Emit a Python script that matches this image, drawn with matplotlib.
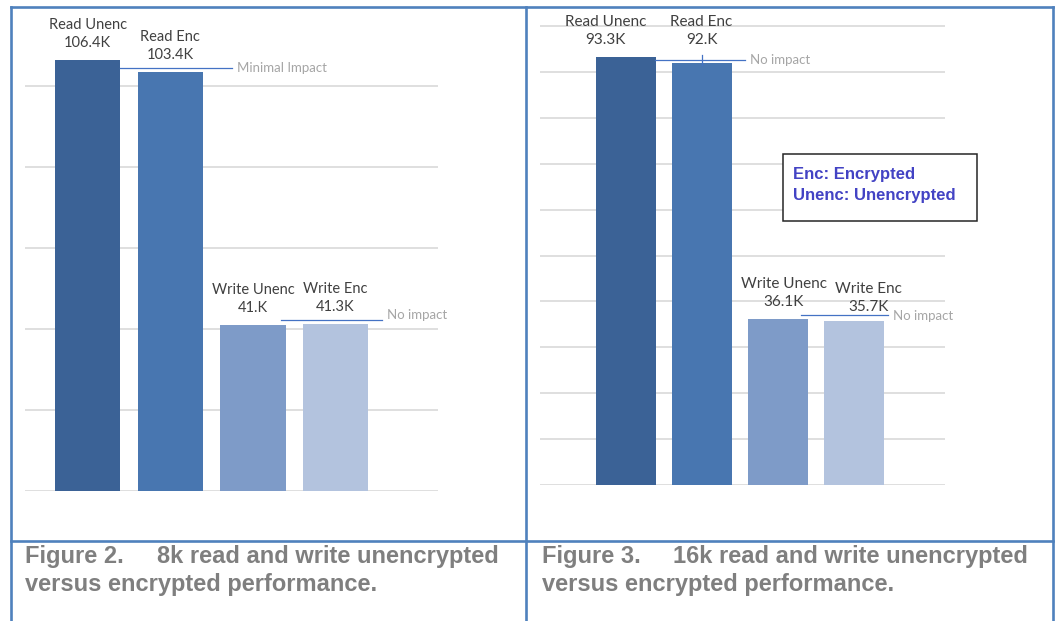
import matplotlib.pyplot as plt
from matplotlib.lines import Line2D
from matplotlib.patches import Rectangle

W, H = 1059, 621

# IOPS (thousands) for the four runs, 8k and 16k block sizes
categories = ['Read Unenc', 'Read Enc', 'Write Unenc', 'Write Enc']
iops_8k = [106.4, 103.4, 41.0, 41.3]
iops_16k = [93.3, 92.0, 36.1, 35.7]
value_labels_8k = ['106.4K', '103.4K', '41.K', '41.3K']
value_labels_16k = ['93.3K', '92.K', '36.1K', '35.7K']

caption_8k = ('Figure 2.', '8k read and write unencrypted', 'versus encrypted performance.')
caption_16k = ('Figure 3.', '16k read and write unencrypted', 'versus encrypted performance.')
key_lines = ['Enc: Encrypted', 'Unenc: Unencrypted']

bar_colors = ['#3b6296', '#4876b0', '#7e9bc8', '#b3c3de']
grid_color = '#d9d9d9'
label_color = '#404040'
note_color = '#a6a6a6'
note_line = '#4472c4'
border = '#4f81bd'


def px_axes(fig, x0, y0, x1, y1):
    return fig.add_axes([x0 / W, 1 - y1 / H, (x1 - x0) / W, (y1 - y0) / H])


def draw_panel(ax, values, vlabels, ylim, step, xlim, width, fsize, offsets):
    ax.bar(range(len(values)), values, width=width, color=bar_colors, zorder=2)
    for i, (cat, v, lab) in enumerate(zip(categories, values, vlabels)):
        dx, dy = offsets[i]
        ax.annotate(f'{cat}\n{lab}', xy=(i, v), xytext=(dx * 0.72, dy * 0.72),
                    textcoords='offset points', ha='center', va='bottom',
                    fontsize=fsize, color=label_color, family='Lato',
                    linespacing=1.35, annotation_clip=False)
    ax.set_xlim(*xlim)
    ax.set_ylim(0, ylim)
    ax.set_yticks(range(0, 101, step))
    ax.set_xticks([])
    ax.tick_params(left=False, labelleft=False)
    ax.grid(axis='y', color=grid_color, lw=1.2, zorder=0)
    ax.set_axisbelow(True)
    for s in ax.spines.values():
        s.set_visible(False)


def note(ax, x0, x1, y, text, ty=None):
    ax.plot([x0, x1], [y, y], color=note_line, lw=0.9, clip_on=False, zorder=3)
    ax.text(x1 + 0.06, y if ty is None else ty, text, ha='left', va='center',
            fontsize=9.5, color=note_color, family='Lato')


fig = plt.figure(figsize=(W / 100, H / 100), dpi=100)

# left panel: 8k
ax1 = px_axes(fig, 25, 15, 438, 491)
draw_panel(ax1, iops_8k, value_labels_8k, 117.5, 20, (-0.76, 4.24), 0.79, 10.5,
           [(0, 10), (0, 10), (0, 10), (0, 10)])
note(ax1, 0.395, 1.745, 104.5, 'Minimal Impact')
note(ax1, 2.34, 3.56, 42.2, 'No impact', ty=43.5)

# right panel: 16k
ax2 = px_axes(fig, 540, 10, 945, 485)
draw_panel(ax2, iops_16k, value_labels_16k, 103.5, 10, (-1.125, 4.2), 0.79, 11,
           [(-20, 10), (0, 16), (6, 10), (15, 7)])
note(ax2, 0.39, 1.57, 92.6, 'No impact')
ax2.plot([1, 1], [91.5, 93.7], color=note_line, lw=0.9, zorder=3)
note(ax2, 2.31, 3.45, 37.0, 'No impact', ty=36.8)

# abbreviation key
fig.add_artist(Rectangle((783 / W, 1 - 221 / H), 194 / W, 67 / H,
                         transform=fig.transFigure, fill=True, fc='white',
                         ec='#262626', lw=1.1))
for k, line in enumerate(key_lines):
    fig.text(793 / W, 1 - (174 + 21 * k) / H, line, ha='left', va='center',
             fontsize=12, fontweight='bold', color='#4343c4',
             family='Liberation Sans')

# captions
for (fig_no, line1, line2), x0, x1 in [(caption_8k, 25, 157), (caption_16k, 542, 673)]:
    kw = dict(ha='left', va='center', fontsize=17, fontweight='bold',
              color='#7f7f7f', family='Liberation Sans')
    fig.text(x0 / W, 1 - 557 / H, fig_no, **kw)
    fig.text(x1 / W, 1 - 557 / H, line1, **kw)
    fig.text(x0 / W, 1 - 585 / H, line2, **kw)

# table border
lw = 1.9
segments = [
    ([11, 1053], [7, 7]),
    ([11, 1053], [540.5, 540.5]),
    ([11, 11], [7, 621]),
    ([526, 526], [7, 621]),
    ([1053, 1053], [7, 621]),
]
for xs, ys in segments:
    fig.add_artist(Line2D([x / W for x in xs], [1 - y / H for y in ys],
                          transform=fig.transFigure, color=border, lw=lw))

fig.savefig('out.png', dpi=100)
